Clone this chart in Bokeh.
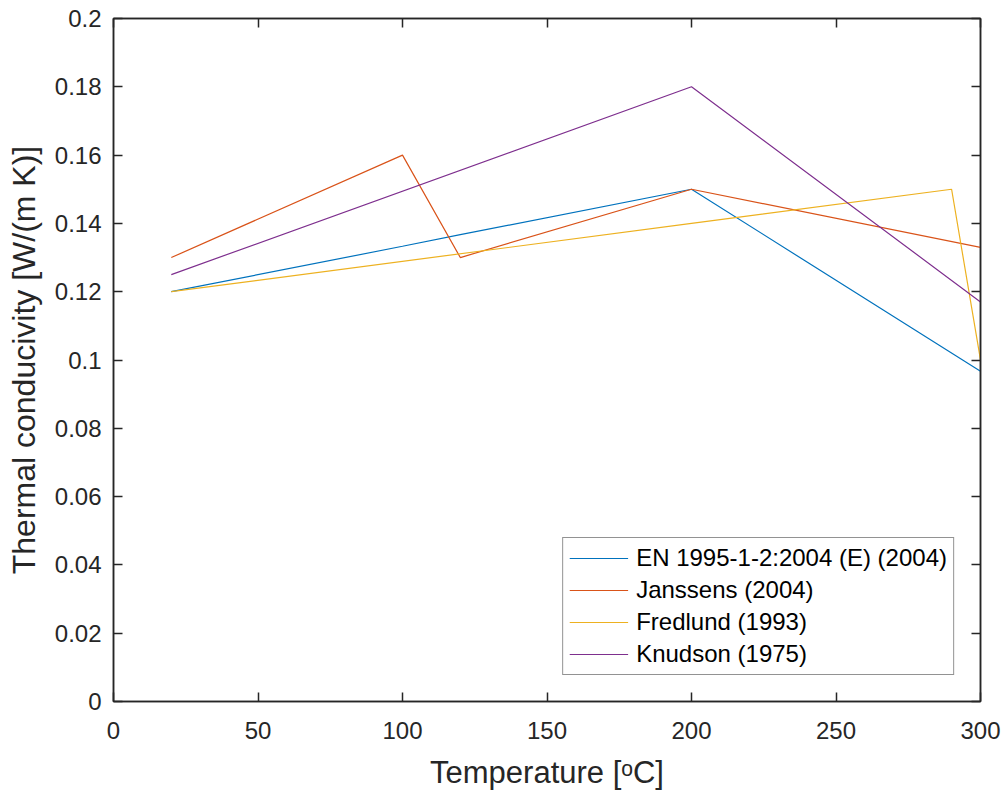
from bokeh.plotting import figure
from bokeh.models import (LinearAxis, FixedTicker, CustomJSTickFormatter, Range1d, Legend, LegendItem)
from bokeh.embed import file_html
from bokeh.resources import INLINE

# Data
en_T = [20, 100, 120, 200, 300]
en_k = [0.12, 0.1333, 0.1367, 0.15, 0.0967]
jan_T = [20, 100, 120, 200, 300]
jan_k = [0.13, 0.16, 0.13, 0.15, 0.133]
fre_T = [20, 200, 290, 300]
fre_k = [0.12, 0.14, 0.15, 0.10]
knu_T = [20, 200, 300]
knu_k = [0.125, 0.18, 0.117]

names = ["EN 1995-1-2:2004 (E) (2004)", "Janssens (2004)", "Fredlund (1993)", "Knudson (1975)"]
colors = ["#0072BD", "#D95319", "#EDB120", "#7E2F8E"]
x_ticks = [0, 50, 100, 150, 200, 250, 300]
y_ticks = [0, 0.02, 0.04, 0.06, 0.08, 0.1, 0.12, 0.14, 0.16, 0.18, 0.2]

FONT = "Liberation Sans"
TXT = "#262626"

p = figure(width=1007, height=799, output_backend="svg", toolbar_location=None,
           x_range=Range1d(0, 300), y_range=Range1d(0, 0.2),
           min_border_left=113, min_border_right=27, min_border_top=18, min_border_bottom=98,
           x_axis_label="Temperature [ᵒC]", y_axis_label="Thermal conducivity [W/(m K)]")
p.grid.visible = False
p.outline_line_color = TXT
p.outline_line_width = 1.5
p.background_fill_color = "white"
p.border_fill_color = "white"

fmt = CustomJSTickFormatter(code="""
var s = tick.toFixed(2);
if (s.indexOf('.') >= 0) { s = s.replace(/0+$/, '').replace(/\\.$/, ''); }
return s;
""")

for ax in p.xaxis:
    ax.ticker = FixedTicker(ticks=x_ticks)
    ax.major_label_standoff = 20
    ax.axis_label_standoff = 13
    ax.axis_label_text_font_size = "31px"
for ax in p.yaxis:
    ax.ticker = FixedTicker(ticks=y_ticks)
    ax.formatter = fmt
    ax.major_label_standoff = 12
    ax.axis_label_standoff = 10
    ax.axis_label_text_font_size = "32px"

for ax in list(p.xaxis) + list(p.yaxis):
    ax.major_tick_in = 9
    ax.major_tick_out = 0
    ax.minor_tick_line_color = None
    ax.axis_line_color = TXT
    ax.axis_line_width = 1.5
    ax.major_tick_line_color = TXT
    ax.major_tick_line_width = 1.5
    ax.major_label_text_font = FONT
    ax.major_label_text_font_size = "24px"
    ax.major_label_text_color = TXT
    ax.axis_label_text_font = FONT
    ax.axis_label_text_font_style = "normal"
    ax.axis_label_text_color = TXT

# Top and right axes with inward ticks, no labels
blank = CustomJSTickFormatter(code="return '';")
top = LinearAxis(ticker=FixedTicker(ticks=x_ticks), formatter=blank,
                 major_tick_in=9, major_tick_out=0, minor_tick_line_color=None,
                 axis_line_color=TXT, axis_line_width=1.5, major_tick_line_color=TXT,
                 major_tick_line_width=1.5, major_label_standoff=0)
right = LinearAxis(ticker=FixedTicker(ticks=y_ticks), formatter=blank,
                   major_tick_in=9, major_tick_out=0, minor_tick_line_color=None,
                   axis_line_color=TXT, axis_line_width=1.5, major_tick_line_color=TXT,
                   major_tick_line_width=1.5, major_label_standoff=0)
p.add_layout(top, "above")
p.add_layout(right, "right")

series = [(en_T, en_k), (jan_T, jan_k), (fre_T, fre_k), (knu_T, knu_k)]
items = []
for (xs, ys), c, n in zip(series, colors, names):
    r = p.line(xs, ys, line_color=c, line_width=1.2)
    items.append(LegendItem(label=n, renderers=[r]))

legend = Legend(items=items, location="bottom_right")
legend.margin = 26
legend.padding = 6
legend.spacing = 4
legend.label_text_font = FONT
legend.label_text_font_size = "24px"
legend.label_text_color = "black"
legend.glyph_width = 59
legend.glyph_height = 24
legend.label_height = 24
legend.label_standoff = 8
legend.border_line_color = TXT
legend.border_line_width = 1.2
legend.background_fill_color = "white"
legend.background_fill_alpha = 1.0
p.add_layout(legend, "center")

open("out.html", "w").write(file_html(p, INLINE))
